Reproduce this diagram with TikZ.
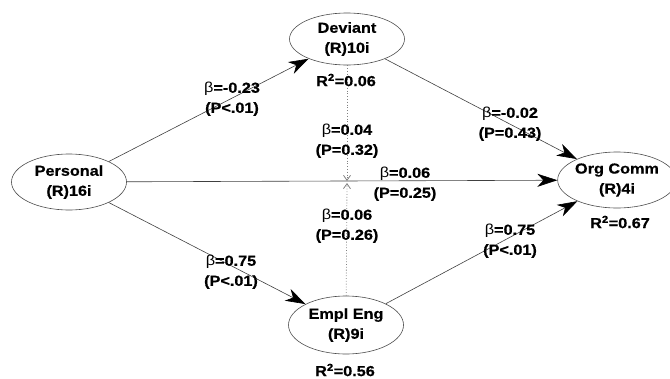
\documentclass[tikz,border=0pt]{standalone}
\usepackage{fontspec}
\setmainfont[FakeStretch=1.12,BoldFeatures={FakeBold=0.6}]{Liberation Sans}
\usetikzlibrary{shapes.geometric,arrows.meta}

\begin{document}
\begin{tikzpicture}[
		x=1pt,y=-1pt,
		every node/.style={font=\fontsize{14.5}{20}\selectfont\bfseries,align=center,inner sep=0pt},
		latent/.style={draw=black!70,line width=0.6pt,ellipse,minimum width=115pt,minimum height=56pt},
		effect/.style={draw=black!75,line width=0.6pt,-{Stealth[length=20pt,width=13pt,inset=6pt,black]}},
		moderate/.style={draw=black!50,dotted,line width=0.8pt,shorten >=1pt,-{Straight Barb[length=5pt,width=7pt]}}
		]
		\useasboundingbox (0,0) rectangle (670,378);
		% constructs
		\node[latent] (personal) at (69,182) {Personal\\(R)16i};
		\node[latent,minimum height=52pt] (deviant) at (347,39) {Deviant\\(R)10i};
		\node[latent,minimum height=58pt] (empleng) at (346,325) {Empl Eng\\(R)9i};
		\node[latent,minimum width=110pt] (orgcomm) at (617,180) {Org Comm\\(R)4i};
		\coordinate (moder) at (347,182);
		% paths
		\draw[effect] (personal) -- (deviant);
		\draw[effect] (personal) -- (empleng);
		\draw[effect] (personal) -- (orgcomm);
		\draw[effect] (deviant) -- (orgcomm);
		\draw[effect] (empleng) -- (orgcomm);
		\draw[moderate] (deviant) -- (moder);
		\draw[moderate] (empleng) -- (moder);
		% coefficients
		\node (b1) at (232,99) {\textmd{β}=-0.23\\(P<.01)};
		\node (b2) at (231,272) {\textmd{β}=0.75\\(P<.01)};
		\node (b3) at (510,124) {\textmd{β}=-0.02\\(P=0.43)};
		\node (b4) at (510,241) {\textmd{β}=0.75\\(P<.01)};
		\node (b5) at (405,184) {\textmd{β}=0.06\\(P=0.25)};
		\node (b6) at (347,141) {\textmd{β}=0.04\\(P=0.32)};
		\node (b7) at (347,226) {\textmd{β}=0.06\\(P=0.26)};
		% explained variance
		\node (r1) at (346,80) {R\textsuperscript{2}=0.06};
		\node (r2) at (345,370) {R\textsuperscript{2}=0.56};
		\node (r3) at (620,222) {R\textsuperscript{2}=0.67};
	\end{tikzpicture}
\end{document}
